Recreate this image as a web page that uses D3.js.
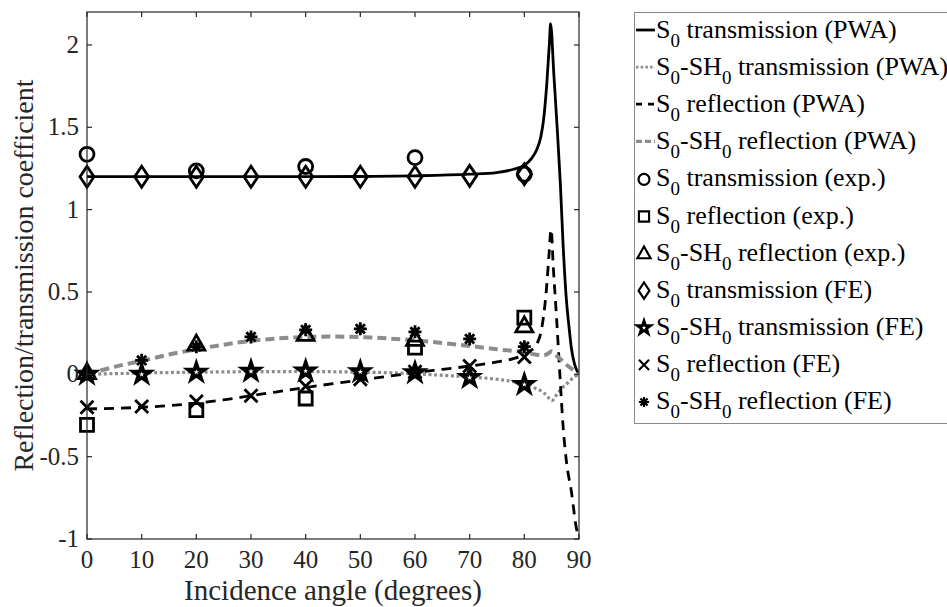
<!DOCTYPE html>
<html>
<head>
<meta charset="utf-8">
<script src="https://cdn.jsdelivr.net/npm/d3@7"></script>
<style>
  html, body { margin: 0; padding: 0; background: #fff; }
  svg { display: block; font-family: "Liberation Serif", "Times New Roman", serif; }
</style>
</head>
<body>
<svg id="chart" width="947" height="607"></svg>
<script>
// Plane-wave approximation curves: [angle (deg), coefficient]
const s0TransPWA = [
  [0, 1.2], [10, 1.2], [20, 1.2], [30, 1.2], [40, 1.2], [50, 1.201], [60, 1.205],
  [70, 1.215], [74.9, 1.225], [78, 1.245], [80, 1.27], [81.3, 1.31], [82.3, 1.367],
  [83, 1.44], [83.5, 1.54], [84.1, 1.76], [84.6, 2.02], [84.8, 2.13],
  [85.4, 1.82], [86.0, 1.5], [86.6, 1.15], [87.1, 0.78], [87.7, 0.45],
  [88.2, 0.28], [88.6, 0.16], [89.2, 0.06], [90, 0]
];
const shTransPWA = [
  [0, 0], [5, 0.004], [10, 0.008], [20, 0.013], [30, 0.016], [40, 0.017], [50, 0.013],
  [55, 0.01], [60, 0.003], [65, -0.006], [70, -0.016], [75, -0.03], [78, -0.045],
  [80, -0.06], [82, -0.085], [83.5, -0.11], [84.5, -0.145], [85, -0.16],
  [86, -0.12], [87, -0.08], [88, -0.05], [89, -0.02], [90, 0]
];
const s0ReflPWA = [
  [0, -0.21], [5, -0.207], [10, -0.2], [15, -0.19], [20, -0.175], [25, -0.155],
  [30, -0.13], [35, -0.105], [40, -0.08], [45, -0.057], [50, -0.035], [55, -0.012],
  [60, 0.01], [65, 0.03], [70, 0.05], [75, 0.075], [78, 0.095], [80, 0.12],
  [81, 0.14], [82, 0.17], [82.5, 0.2], [83, 0.25], [83.5, 0.35], [84, 0.5],
  [84.5, 0.72], [84.9, 0.88], [85.3, 0.65], [85.9, 0.34], [86.5, 0.0],
  [87.1, -0.32], [87.7, -0.53], [88.6, -0.71], [89.5, -0.93], [90, -1.0]
];
const shReflPWA = [
  [0, 0], [5, 0.045], [10, 0.082], [15, 0.12], [20, 0.152], [25, 0.18], [30, 0.203],
  [35, 0.218], [40, 0.226], [45, 0.229], [50, 0.226], [55, 0.218], [60, 0.206],
  [65, 0.19], [70, 0.172], [75, 0.152], [80, 0.133], [82, 0.12], [83.5, 0.115],
  [84.5, 0.13], [85, 0.14], [86, 0.11], [87, 0.08], [88, 0.05], [89, 0.025], [90, 0]
];

// Experimental measurements
const expAngles = [0, 20, 40, 60, 80];
const s0TransExp = [1.336, 1.235, 1.262, 1.316, 1.215];
const s0ReflExp = [-0.307, -0.218, -0.147, 0.162, 0.344];
const shReflExp = [0.01, 0.183, 0.243, 0.212, 0.294];

// Finite element results
const feAngles = [0, 10, 20, 30, 40, 50, 60, 70, 80];
const s0TransFE = [1.2, 1.2, 1.2, 1.2, 1.2, 1.2, 1.2, 1.205, 1.215];
const shTransFE = [0, 0, 0.013, 0.018, 0.02, 0.015, 0.01, -0.02, -0.062];
const s0ReflFE = [-0.2, -0.196, -0.165, -0.13, -0.073, -0.03, 0.015, 0.05, 0.105];
const shReflFE = [0, 0.085, 0.168, 0.227, 0.27, 0.276, 0.258, 0.215, 0.168];

// Axis ticks
const xTicks = [0, 10, 20, 30, 40, 50, 60, 70, 80, 90];
const yTicks = [-1, -0.5, 0, 0.5, 1, 1.5, 2];
const yTickLabels = ["-1", "-0.5", "0", "0.5", "1", "1.5", "2"];

const svg = d3.select("#chart");
const plotL = 87, plotR = 579, plotT = 12, plotB = 539;

const x = d3.scaleLinear().domain([0, 90]).range([plotL, plotR]);
const y = d3.scaleLinear().domain([-1, 2.2]).range([plotB, plotT]);

const GRAY = "#8c8c8c";

// curves
const line = d3.line().x(d => x(d[0])).y(d => y(d[1])).curve(d3.curveMonotoneX);
const curves = [
  { data: s0TransPWA, stroke: "#000", width: 2.8, dash: null },
  { data: shTransPWA, stroke: GRAY, width: 3.2, dash: "3,2.6" },
  { data: s0ReflPWA, stroke: "#000", width: 2.8, dash: "10,7" },
  { data: shReflPWA, stroke: GRAY, width: 4, dash: "9,5" }
];
const plot = svg.append("g");
plot.append("defs").append("clipPath").attr("id", "clip")
  .append("rect").attr("x", plotL).attr("y", plotT).attr("width", plotR - plotL).attr("height", plotB - plotT);
const curveG = plot.append("g").attr("clip-path", "url(#clip)");
curves.forEach(c => {
  curveG.append("path").attr("d", line(c.data)).attr("fill", "none")
    .attr("stroke", c.stroke).attr("stroke-width", c.width)
    .attr("stroke-dasharray", c.dash).attr("stroke-linejoin", "round");
});

// marker shapes
function markerPath(kind) {
  const p = d3.path();
  if (kind === "circle") { p.moveTo(7, 0); p.arc(0, 0, 7, 0, 2 * Math.PI); }
  else if (kind === "square") { p.rect(-6.5, -6.5, 13, 13); }
  else if (kind === "triangle") { p.moveTo(0, -9); p.lineTo(8.5, 6); p.lineTo(-8.5, 6); p.closePath(); }
  else if (kind === "diamond") { p.moveTo(0, -10.5); p.lineTo(7, 0); p.lineTo(0, 10.5); p.lineTo(-7, 0); p.closePath(); }
  else if (kind === "x") { p.moveTo(-6.5, -6.5); p.lineTo(6.5, 6.5); p.moveTo(6.5, -6.5); p.lineTo(-6.5, 6.5); }
  else if (kind === "asterisk") {
    const r = 6.5, d = r * 0.7071;
    p.moveTo(-r, 0); p.lineTo(r, 0); p.moveTo(0, -r); p.lineTo(0, r);
    p.moveTo(-d, -d); p.lineTo(d, d); p.moveTo(d, -d); p.lineTo(-d, d);
  }
  else if (kind === "star") { return d3.symbol(d3.symbolStar, 85)(); }
  return p.toString();
}
function drawMarker(g, kind, cx, cy) {
  g.append("path").attr("d", markerPath(kind))
    .attr("transform", `translate(${cx},${cy})`)
    .attr("fill", kind === "star" ? "#fff" : "none")
    .attr("stroke", "#000").attr("stroke-width", kind === "star" ? 3.6 : 2.8)
    .attr("stroke-linejoin", "miter");
}

const markerSets = [
  { kind: "circle", xs: expAngles, ys: s0TransExp },
  { kind: "square", xs: expAngles, ys: s0ReflExp },
  { kind: "triangle", xs: expAngles, ys: shReflExp },
  { kind: "diamond", xs: feAngles, ys: s0TransFE },
  { kind: "star", xs: feAngles, ys: shTransFE },
  { kind: "x", xs: feAngles, ys: s0ReflFE },
  { kind: "asterisk", xs: feAngles, ys: shReflFE }
];
const markG = plot.append("g");
markerSets.forEach(s => s.xs.forEach((a, i) => drawMarker(markG, s.kind, x(a), y(s.ys[i]))));

// axes box with inward ticks on all four sides
const axG = svg.append("g").attr("stroke", "#262626").attr("stroke-width", 1.2);
axG.append("rect").attr("x", plotL).attr("y", plotT).attr("width", plotR - plotL).attr("height", plotB - plotT)
  .attr("fill", "none");
const tl = 5;
xTicks.forEach(t => {
  axG.append("line").attr("x1", x(t)).attr("x2", x(t)).attr("y1", plotB).attr("y2", plotB - tl);
  axG.append("line").attr("x1", x(t)).attr("x2", x(t)).attr("y1", plotT).attr("y2", plotT + tl);
});
yTicks.forEach(t => {
  axG.append("line").attr("x1", plotL).attr("x2", plotL + tl).attr("y1", y(t)).attr("y2", y(t));
  axG.append("line").attr("x1", plotR).attr("x2", plotR - tl).attr("y1", y(t)).attr("y2", y(t));
});

const txt = svg.append("g").attr("fill", "#262626").attr("font-size", 25);
xTicks.forEach(t => {
  txt.append("text").attr("x", x(t)).attr("y", 568).attr("text-anchor", "middle").text(t);
});
yTicks.forEach((t, i) => {
  txt.append("text").attr("x", 79).attr("y", y(t) + 8).attr("text-anchor", "end").text(yTickLabels[i]);
});
txt.append("text").attr("x", (plotL + plotR) / 2).attr("y", 600).attr("text-anchor", "middle")
  .attr("font-size", 29).text("Incidence angle (degrees)");
txt.append("text").attr("transform", `translate(33,${(plotT + plotB) / 2}) rotate(-90)`)
  .attr("text-anchor", "middle").attr("font-size", 28).text("Reflection/transmission coefficient");

// legend
const legendItems = [
  { type: "line", stroke: "#000", width: 2.8, dash: null, parts: ["S", "0", " transmission (PWA)"] },
  { type: "line", stroke: GRAY, width: 2.8, dash: "2.5,2.2", parts: ["S", "0", "-SH", "0", " transmission (PWA)"] },
  { type: "line", stroke: "#000", width: 2.8, dash: "6,6", parts: ["S", "0", " reflection (PWA)"] },
  { type: "line", stroke: GRAY, width: 3.2, dash: "6,3", parts: ["S", "0", "-SH", "0", " reflection (PWA)"] },
  { type: "marker", kind: "circle", parts: ["S", "0", " transmission (exp.)"] },
  { type: "marker", kind: "square", parts: ["S", "0", " reflection (exp.)"] },
  { type: "marker", kind: "triangle", parts: ["S", "0", "-SH", "0", " reflection (exp.)"] },
  { type: "marker", kind: "diamond", parts: ["S", "0", " transmission (FE)"] },
  { type: "marker", kind: "star", parts: ["S", "0", "-SH", "0", " transmission (FE)"] },
  { type: "marker", kind: "x", parts: ["S", "0", " reflection (FE)"] },
  { type: "marker", kind: "asterisk", parts: ["S", "0", "-SH", "0", " reflection (FE)"] }
];
const lg = svg.append("g");
lg.append("rect").attr("x", 634.5).attr("y", 12.5).attr("width", 340).attr("height", 411)
  .attr("fill", "#fff").attr("stroke", "#8a8a8a").attr("stroke-width", 1);
legendItems.forEach((it, i) => {
  const cy = 30 + i * 37.1;
  if (it.type === "line") {
    lg.append("line").attr("x1", 636).attr("x2", 655).attr("y1", cy).attr("y2", cy)
      .attr("stroke", it.stroke).attr("stroke-width", it.width).attr("stroke-dasharray", it.dash);
  } else {
    const g = lg.append("g").attr("transform", `translate(${644},${cy + 1}) scale(0.78)`);
    drawMarker(g, it.kind, 0, 0);
  }
  const t = lg.append("text").attr("x", 656).attr("y", cy + 8).attr("font-size", 26).attr("fill", "#000");
  it.parts.forEach((p, j) => {
    const sub = p === "0";
    const prevSub = j > 0 && it.parts[j - 1] === "0";
    const ts = t.append("tspan").text(p);
    if (sub) ts.attr("dy", 9).attr("font-size", 19);
    else if (prevSub) ts.attr("dy", -9);
  });
});
</script>
</body>
</html>
